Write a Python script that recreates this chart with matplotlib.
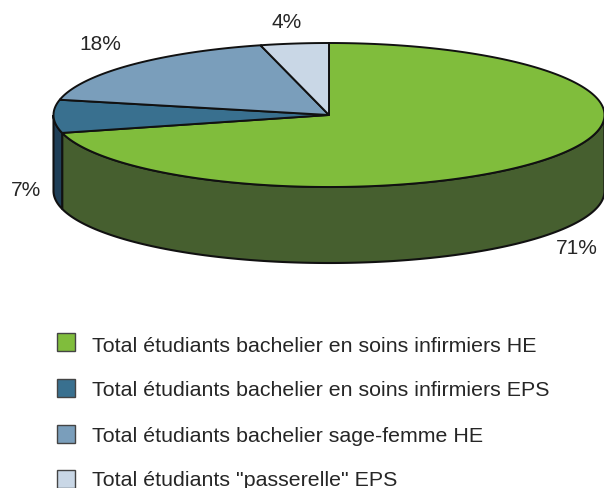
import numpy as np
import matplotlib
matplotlib.use("Agg")
import matplotlib.pyplot as plt
from matplotlib.patches import Rectangle, Polygon

plt.rcParams["font.family"] = ["Liberation Sans", "DejaVu Sans"]

# data
labels = ["Total étudiants bachelier en soins infirmiers HE",
          "Total étudiants bachelier en soins infirmiers EPS",
          "Total étudiants bachelier sage-femme HE",
          "Total étudiants \"passerelle\" EPS"]
values = [71, 7.4, 17.6, 4]
pct_labels = ["71%", "7%", "18%", "4%"]
colors = ["#80bd3c", "#39708f", "#7a9ebb", "#c9d7e6"]
side_colors = ["#465f2f", "#1f3f58", "#4d6a85", "#8a99aa"]

# layout in pixels
label_pos = [(577, 248), (26, 190), (100, 45), (287, 22)]
text_base = [351.5, 396.5, 441.5, 486]
box_top = [333, 379, 425, 470]

W, H = 604, 488
cx, cy, rx, ry, depth = 329, 115, 275.5, 72, 76

fig = plt.figure(figsize=(W / 100, H / 100), dpi=100)
ax = fig.add_axes([0, 0, 1, 1])
ax.set_xlim(0, W)
ax.set_ylim(H, 0)
ax.axis("off")


# point on the ellipse, angle clockwise from the top
def rim(a):
    return cx + rx * np.sin(a), cy - ry * np.cos(a)


# side wall first, then the top
start = 0
angles = []
for v in values:
    end = start + v / sum(values) * 2 * np.pi
    angles.append((start, end))
    start = end

for (a0, a1), col in zip(angles, side_colors):
    t = np.linspace(a0, a1, 300)
    t = t[np.cos(t) <= 0]
    if len(t) < 2:
        continue
    x, y = rim(t)
    pts = np.column_stack([np.r_[x, x[::-1]], np.r_[y, (y + depth)[::-1]]])
    ax.add_patch(Polygon(pts, closed=True, fc=col, ec="#111111", lw=1.5, zorder=2))

for (a0, a1), col in zip(angles, colors):
    t = np.linspace(a0, a1, 300)
    x, y = rim(t)
    pts = np.column_stack([np.r_[cx, x], np.r_[cy, y]])
    ax.add_patch(Polygon(pts, closed=True, fc=col, ec="#111111", lw=1.4, zorder=3))

for s, (x, y) in zip(pct_labels, label_pos):
    ax.text(x, y, s, fontsize=15, ha="center", va="center", color="#262626")

for s, col, yb, yt in zip(labels, colors, text_base, box_top):
    ax.add_patch(Rectangle((57, yt), 18, 18, fc=col, ec="#444444", lw=1.0))
    ax.text(92, yb, s, fontsize=15.4, ha="left", va="baseline", color="#262626")

fig.savefig("out.png", dpi=100)
